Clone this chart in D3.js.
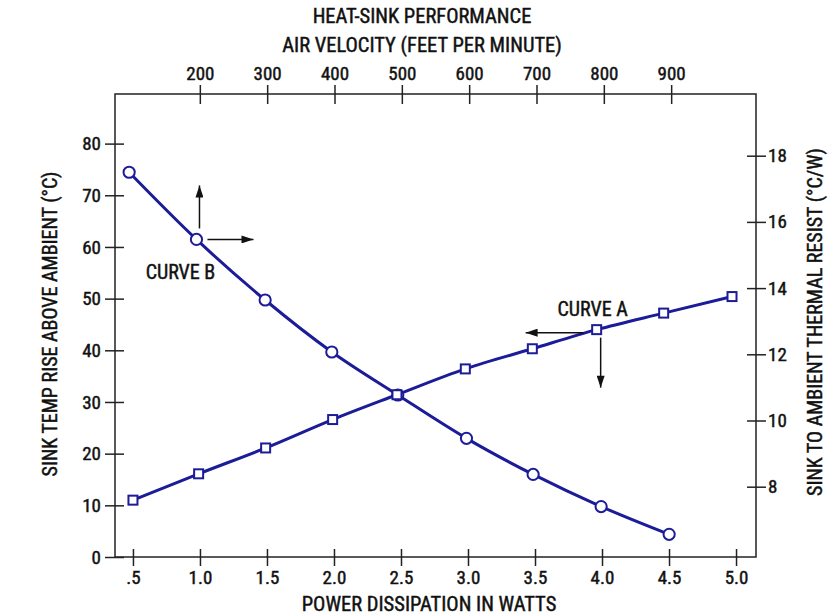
<!DOCTYPE html>
<html>
<head>
<meta charset="utf-8">
<script src="https://cdn.jsdelivr.net/npm/d3@7"></script>
<style>
  body { margin: 0; background: #fff; }
  svg { display: block; }
  text { font-family: "Liberation Sans Narrow", "Arial Narrow", "Roboto Condensed", sans-serif;
         fill: #111; stroke: #111; stroke-width: 0.45px; }
  .axis path { stroke: none; }
  .axis line { stroke: #222; stroke-width: 1.5; }
  .axis text { font-size: 19px; }
</style>
</head>
<body>
<svg width="831" height="616"></svg>
<script>
// Curve A: temp rise (left axis) vs power (bottom axis)
var powerA = [0.5, 0.99, 1.49, 1.99, 2.47, 2.98, 3.48, 3.96, 4.46, 4.97];
var tempA = [11.0, 16.1, 21.1, 26.6, 31.4, 36.4, 40.3, 44.0, 47.2, 50.4];

// Curve B: thermal resistance (right axis) vs air velocity (top axis)
var velocityB = [95, 195, 297, 396, 494, 596, 695, 796, 897];
var resistB = [17.5, 15.47, 13.64, 12.07, 10.77, 9.46, 8.37, 7.4, 6.56];

var powerTicks = [0.5, 1.0, 1.5, 2.0, 2.5, 3.0, 3.5, 4.0, 4.5, 5.0];
var powerLabels = [".5", "1.0", "1.5", "2.0", "2.5", "3.0", "3.5", "4.0", "4.5", "5.0"];
var velocityTicks = [200, 300, 400, 500, 600, 700, 800, 900];
var tempTicks = [0, 10, 20, 30, 40, 50, 60, 70, 80];
var resistTicks = [8, 10, 12, 14, 16, 18];

var svg = d3.select("svg");
var plotL = 115, plotR = 756, plotT = 94, plotB = 557;
var blue = "#1c1c98";

var xPower = d3.scaleLinear().domain([0.366, 5.149]).range([plotL, plotR]);
var xVel = d3.scaleLinear().domain([74, 1026]).range([plotL, plotR]);
var yTemp = d3.scaleLinear().domain([0, 89.6]).range([plotB, plotT]);
var yRes = d3.scaleLinear().domain([5.876, 19.864]).range([plotB, plotT]);

// frame
svg.append("rect")
  .attr("x", plotL).attr("y", plotT)
  .attr("width", plotR - plotL).attr("height", plotB - plotT)
  .attr("fill", "none").attr("stroke", "#222").attr("stroke-width", 1.5);

// axes, ticks cross the frame line
var gBottom = svg.append("g").attr("class", "axis")
  .attr("transform", "translate(0," + plotB + ")")
  .call(d3.axisBottom(xPower).tickValues(powerTicks)
    .tickFormat(function(d, i) { return powerLabels[i]; })
    .tickSize(9).tickPadding(5));
gBottom.selectAll(".tick line").attr("y1", -8);

var gTop = svg.append("g").attr("class", "axis")
  .attr("transform", "translate(0," + plotT + ")")
  .call(d3.axisTop(xVel).tickValues(velocityTicks).tickSize(9).tickPadding(5));
gTop.selectAll(".tick line").attr("y1", 10);

var gLeft = svg.append("g").attr("class", "axis")
  .attr("transform", "translate(" + plotL + ",0)")
  .call(d3.axisLeft(yTemp).tickValues(tempTicks).tickSize(10).tickPadding(4));
gLeft.selectAll(".tick line").attr("x1", 9);

var gRight = svg.append("g").attr("class", "axis")
  .attr("transform", "translate(" + plotR + ",0)")
  .call(d3.axisRight(yRes).tickValues(resistTicks).tickSize(10).tickPadding(2));
gRight.selectAll(".tick line").attr("x1", -9);

// titles
svg.append("text").attr("x", 422).attr("y", 23).attr("text-anchor", "middle")
  .style("font-size", "20.5px").text("HEAT-SINK PERFORMANCE");
svg.append("text").attr("x", 422).attr("y", 52).attr("text-anchor", "middle")
  .style("font-size", "20.5px").text("AIR VELOCITY (FEET PER MINUTE)");
svg.append("text").attr("x", 429).attr("y", 611).attr("text-anchor", "middle")
  .style("font-size", "20.5px").text("POWER DISSIPATION IN WATTS");
svg.append("text").attr("transform", "translate(57,324) rotate(-90)")
  .attr("text-anchor", "middle").style("font-size", "20px")
  .text("SINK TEMP RISE ABOVE AMBIENT (°C)");
svg.append("text").attr("transform", "translate(822,322) rotate(-90)")
  .attr("text-anchor", "middle").style("font-size", "20px")
  .text("SINK TO AMBIENT THERMAL RESIST (°C/W)");

// curves
var lineA = d3.line()
  .x(function(d, i) { return xPower(powerA[i]); })
  .y(function(d) { return yTemp(d); })
  .curve(d3.curveMonotoneX);
var lineB = d3.line()
  .x(function(d, i) { return xVel(velocityB[i]); })
  .y(function(d) { return yRes(d); })
  .curve(d3.curveMonotoneX);

svg.append("path").datum(resistB).attr("d", lineB)
  .attr("fill", "none").attr("stroke", blue).attr("stroke-width", 3);
svg.append("path").datum(tempA).attr("d", lineA)
  .attr("fill", "none").attr("stroke", blue).attr("stroke-width", 3);

svg.selectAll(".ptB").data(resistB).enter().append("circle")
  .attr("cx", function(d, i) { return xVel(velocityB[i]); })
  .attr("cy", function(d) { return yRes(d); })
  .attr("r", 5.6).attr("fill", "#fff").attr("stroke", blue).attr("stroke-width", 2);

svg.selectAll(".ptA").data(tempA).enter().append("rect")
  .attr("x", function(d, i) { return xPower(powerA[i]) - 4.5; })
  .attr("y", function(d) { return yTemp(d) - 4.5; })
  .attr("width", 9).attr("height", 9)
  .attr("fill", "#fff").attr("stroke", blue).attr("stroke-width", 2);

// arrows
svg.append("defs").append("marker")
  .attr("id", "head").attr("viewBox", "0 0 12 8")
  .attr("refX", 12).attr("refY", 4)
  .attr("markerWidth", 13).attr("markerHeight", 8)
  .attr("markerUnits", "userSpaceOnUse").attr("orient", "auto")
  .append("path").attr("d", "M0,0 L12,4 L0,8 Z").attr("fill", "#111");

function arrow(x1, y1, x2, y2) {
  svg.append("line").attr("x1", x1).attr("y1", y1).attr("x2", x2).attr("y2", y2)
    .attr("stroke", "#111").attr("stroke-width", 1.5).attr("marker-end", "url(#head)");
}
// Curve B points up (top axis) and right (right axis)
var bx = xVel(velocityB[1]), by = yRes(resistB[1]);
arrow(bx + 3, by - 11, bx + 3, by - 54);
arrow(bx + 11, by, bx + 57, by);
// Curve A points left and down
var ax = xPower(powerA[7]), ay = yTemp(tempA[7]);
arrow(ax - 13, ay + 3, ax - 71, ay + 3);
arrow(ax + 4, ay + 8, ax + 4, ay + 58);

svg.append("text").attr("x", bx - 16).attr("y", by + 40).attr("text-anchor", "middle")
  .style("font-size", "20px").text("CURVE B");
svg.append("text").attr("x", ax - 4).attr("y", ay - 14).attr("text-anchor", "middle")
  .style("font-size", "20px").text("CURVE A");
</script>
</body>
</html>
